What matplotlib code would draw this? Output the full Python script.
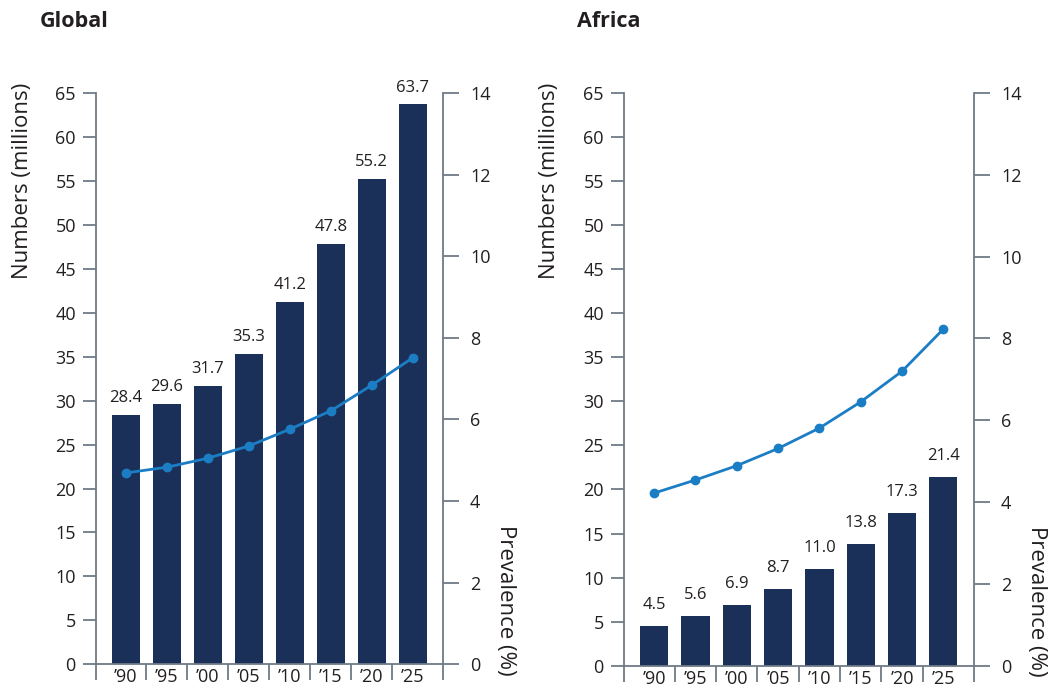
import matplotlib.pyplot as plt

plt.rcParams['font.family'] = ['Open Sans', 'DejaVu Sans']

years = ['\u201990', '\u201995', '\u201900', '\u201905', '\u201910', '\u201915', '\u201920', '\u201925']
global_num = [28.4, 29.6, 31.7, 35.3, 41.2, 47.8, 55.2, 63.7]
global_prev = [4.69, 4.83, 5.05, 5.35, 5.76, 6.21, 6.84, 7.51]
africa_num = [4.5, 5.6, 6.9, 8.7, 11.0, 13.8, 17.3, 21.4]
africa_prev = [4.22, 4.54, 4.89, 5.31, 5.81, 6.45, 7.20, 8.23]

bar_col = '#1b3059'
line_col = '#1b7ec5'
axis_col = '#6e7b87'
txt_col = '#231f20'

fig = plt.figure(figsize=(10.48, 6.88), dpi=100)


def panel(rect, title, title_x, nums, prev, lab_off):
    ax = fig.add_axes(rect)
    x = list(range(len(years)))
    ax.bar(x, nums, width=0.68, color=bar_col, zorder=2)
    for a, b in zip(x, nums):
        ax.text(a, b + lab_off, '%.1f' % b, ha='center', va='bottom', fontsize=12, color=txt_col)
    ax.set_xlim(-0.73, 7.74)
    ax.set_ylim(0, 65)
    ax.set_yticks(range(0, 66, 5))
    ax.set_xticks(x)
    ax.set_xticklabels(years)
    ax.set_xticks([-0.73] + [i + 0.5 for i in range(7)] + [7.74], minor=True)
    ax.tick_params(axis='x', which='major', length=0, pad=3, labelsize=13, colors=txt_col)
    ax.tick_params(axis='x', which='minor', length=11.5, width=1.3, color=axis_col)
    ax.tick_params(axis='y', length=9.5, width=1.3, color=axis_col, labelcolor=txt_col,
                   labelsize=13, pad=5)
    for s in ['top', 'right']:
        ax.spines[s].set_visible(False)
    for s in ['left', 'bottom']:
        ax.spines[s].set_color(axis_col)
        ax.spines[s].set_linewidth(1.3)
    ax.text(-0.213, 1.0175, 'Numbers (millions)', transform=ax.transAxes, rotation=90,
            ha='center', va='top', fontsize=16, color=txt_col)

    ax2 = ax.twinx()
    ax2.plot(x, prev, color=line_col, linewidth=2, marker='o', markersize=6, zorder=3)
    ax2.set_ylim(0, 14)
    ax2.set_yticks(range(0, 15, 2))
    ax2.tick_params(axis='y', length=11.5, width=1.3, color=axis_col, labelcolor=txt_col,
                    labelsize=13, pad=8)
    for s in ['top', 'left', 'bottom']:
        ax2.spines[s].set_visible(False)
    ax2.spines['right'].set_color(axis_col)
    ax2.spines['right'].set_linewidth(1.3)
    ax2.text(1.18, 0.244, 'Prevalence (%)', transform=ax2.transAxes, rotation=270,
             ha='center', va='top', fontsize=16, color=txt_col)

    fig.text(title_x, 1 - 11 / 688, title, ha='left', va='top', fontsize=15.5,
             fontweight='bold', color=txt_col)
    return ax


panel([96 / 1048, 1 - 664.3 / 688, 347 / 1048, 571.3 / 688], 'Global', 40 / 1048,
      global_num, global_prev, 1.0)
panel([624 / 1048, 1 - 665.7 / 688, 350 / 1048, 572.7 / 688], 'Africa', 577 / 1048,
      africa_num, africa_prev, 1.5)

fig.savefig('out.png', dpi=100)
